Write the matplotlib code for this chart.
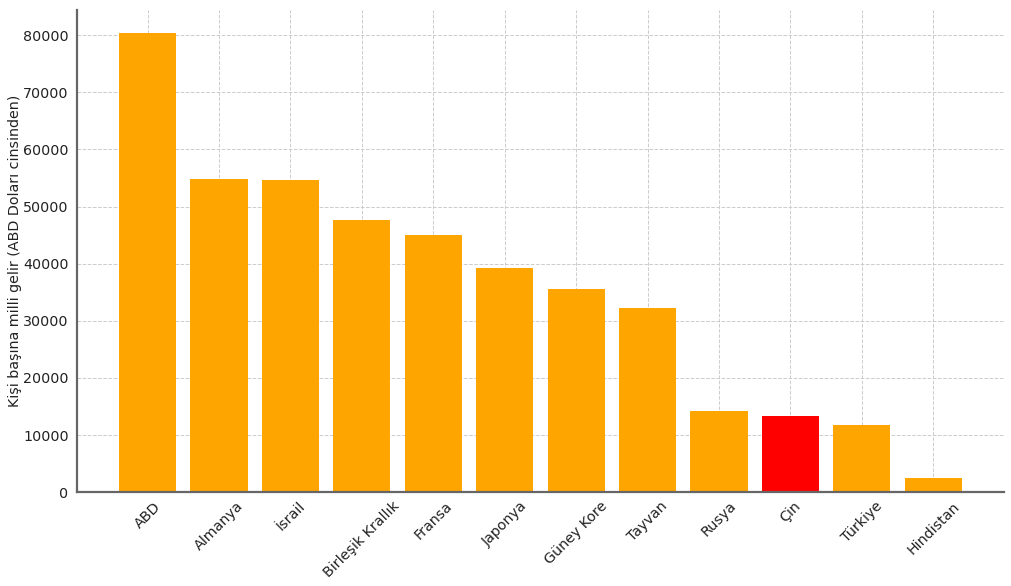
import matplotlib
matplotlib.use("Agg")
import matplotlib.pyplot as plt

countries = ["ABD", "Almanya", "İsrail", "Birleşik Krallık", "Fransa", "Japonya",
             "Güney Kore", "Tayvan", "Rusya", "Çin", "Türkiye", "Hindistan"]
income = [80400, 54800, 54600, 47600, 45100, 39300,
          35500, 32200, 14300, 13400, 11700, 2500]
highlight = "Çin"

colors = ["red" if c == highlight else "orange" for c in countries]

fig, ax = plt.subplots(figsize=(10.12, 5.86), dpi=100)
ax.bar(countries, income, color=colors, width=0.8, zorder=2)
ax.set_ylabel("Kişi başına milli gelir (ABD Doları cinsinden)", fontsize=10.3,
              color="#222222")
ax.yaxis.set_label_coords(-0.059, 0.5)
ax.tick_params(axis="x", labelrotation=45, labelsize=10.3, direction="in",
               length=4, color="#333333", labelcolor="#222222", pad=5)
ax.tick_params(axis="y", labelsize=10.3, direction="in", length=0,
               labelcolor="#222222", pad=6)
ax.grid(True, linestyle="--", color="#cccccc", linewidth=0.7, zorder=0)
for s in ["top", "right"]:
    ax.spines[s].set_visible(False)
for s in ["left", "bottom"]:
    ax.spines[s].set_color("#666666")
    ax.spines[s].set_linewidth(1.6)

fig.subplots_adjust(left=0.076, right=0.992, top=0.983, bottom=0.16)
fig.savefig("out.png", dpi=100)
